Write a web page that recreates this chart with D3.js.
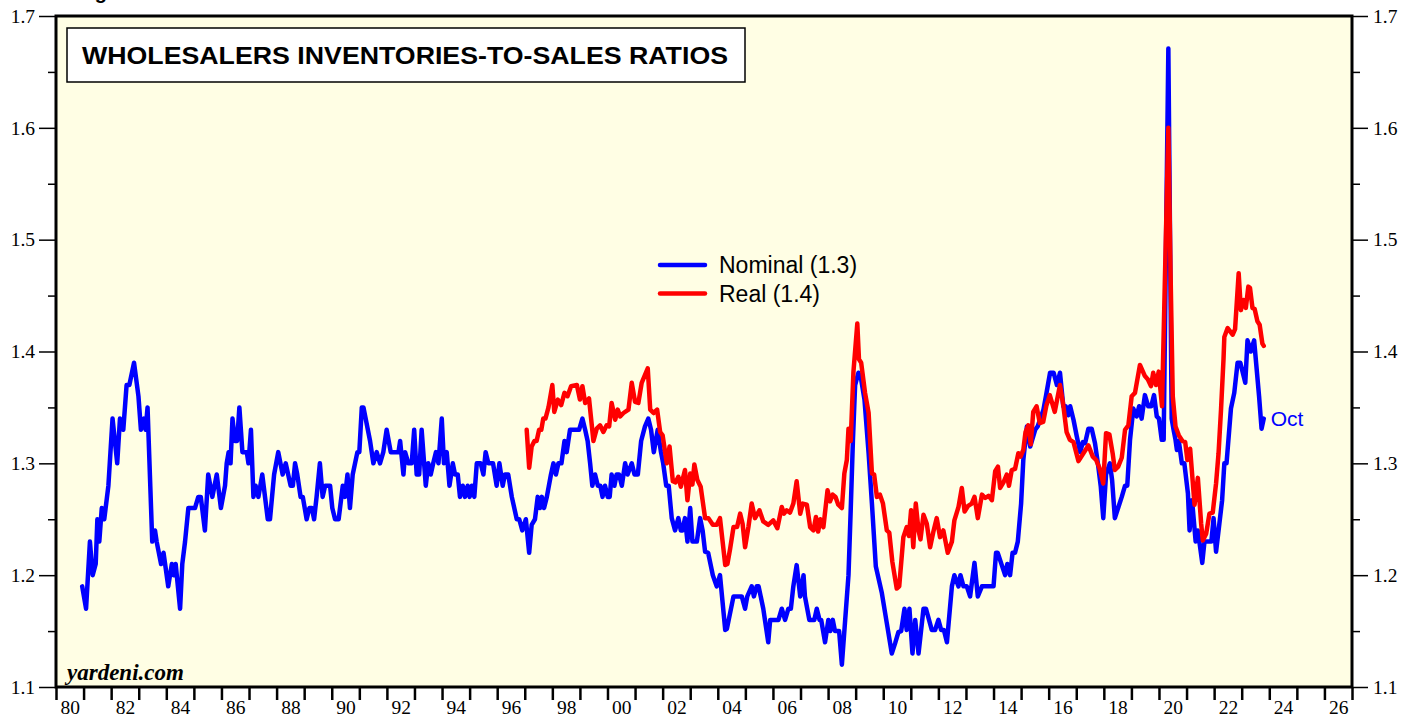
<!DOCTYPE html>
<html>
<head>
<meta charset="utf-8">
<script src="https://cdn.jsdelivr.net/npm/d3@7"></script>
<style>
  html, body { margin: 0; padding: 0; background: #fff; overflow: hidden; }
  svg { display: block; }
  .tick-label { font-family: "Liberation Serif", "Times New Roman", serif; font-size: 19.5px; fill: #000; }
  .axis path { display: none; }
  .axis line { stroke: #000; }
</style>
</head>
<body>
<div id="chart"></div>
<script>
// Wholesalers inventories-to-sales ratios
// points are [decimal year, ratio]
const nominal = [
  [1980.95,1.19],[1981.09,1.17],[1981.23,1.23],[1981.33,1.20],[1981.44,1.21],[1981.50,1.25],[1981.57,1.23],
  [1981.66,1.26],[1981.75,1.25],[1981.90,1.28],[1982.05,1.34],[1982.22,1.30],[1982.32,1.34],[1982.44,1.33],
  [1982.56,1.37],[1982.66,1.37],[1982.83,1.39],[1982.99,1.36],[1983.08,1.33],[1983.19,1.34],[1983.25,1.33],
  [1983.32,1.35],[1983.49,1.23],[1983.59,1.24],[1983.65,1.23],[1983.81,1.21],[1983.90,1.22],[1984.07,1.19],
  [1984.20,1.21],[1984.27,1.20],[1984.34,1.21],[1984.50,1.17],[1984.58,1.21],[1984.68,1.23],[1984.80,1.26],
  [1985.04,1.26],[1985.16,1.27],[1985.25,1.27],[1985.40,1.24],[1985.52,1.29],[1985.67,1.27],[1985.83,1.29],
  [1985.98,1.26],[1986.13,1.28],[1986.19,1.30],[1986.26,1.31],[1986.33,1.30],[1986.40,1.34],[1986.49,1.32],
  [1986.57,1.32],[1986.65,1.35],[1986.76,1.31],[1986.92,1.31],[1986.98,1.30],[1987.07,1.33],[1987.16,1.27],
  [1987.24,1.28],[1987.34,1.27],[1987.48,1.29],[1987.68,1.25],[1987.76,1.25],[1987.91,1.29],[1988.06,1.31],
  [1988.22,1.29],[1988.33,1.30],[1988.51,1.28],[1988.59,1.28],[1988.67,1.30],[1988.75,1.29],[1988.87,1.27],
  [1988.95,1.27],[1989.09,1.25],[1989.19,1.26],[1989.28,1.26],[1989.36,1.25],[1989.45,1.27],[1989.57,1.30],
  [1989.67,1.27],[1989.76,1.28],[1989.94,1.28],[1990.02,1.26],[1990.12,1.25],[1990.25,1.25],[1990.40,1.28],
  [1990.48,1.27],[1990.57,1.29],[1990.66,1.26],[1990.76,1.29],[1990.93,1.31],[1991.00,1.31],[1991.09,1.35],
  [1991.15,1.35],[1991.39,1.32],[1991.51,1.30],[1991.63,1.31],[1991.75,1.30],[1991.87,1.31],[1991.99,1.33],
  [1992.14,1.31],[1992.42,1.31],[1992.48,1.32],[1992.60,1.29],[1992.66,1.31],[1992.78,1.30],[1992.90,1.30],
  [1992.99,1.33],[1993.08,1.29],[1993.17,1.29],[1993.26,1.33],[1993.41,1.28],[1993.50,1.30],[1993.59,1.29],
  [1993.68,1.30],[1993.78,1.31],[1993.87,1.30],[1993.99,1.34],[1994.07,1.30],[1994.17,1.31],[1994.27,1.28],
  [1994.39,1.30],[1994.47,1.29],[1994.57,1.29],[1994.65,1.27],[1994.75,1.28],[1994.83,1.27],[1994.93,1.28],
  [1995.00,1.27],[1995.08,1.28],[1995.17,1.27],[1995.26,1.30],[1995.40,1.30],[1995.50,1.29],[1995.58,1.31],
  [1995.68,1.30],[1995.85,1.30],[1995.98,1.28],[1996.08,1.30],[1996.20,1.28],[1996.28,1.29],[1996.40,1.29],
  [1996.53,1.27],[1996.71,1.25],[1996.80,1.25],[1996.91,1.24],[1997.04,1.25],[1997.16,1.22],[1997.25,1.245],
  [1997.37,1.25],[1997.47,1.27],[1997.55,1.26],[1997.62,1.27],[1997.70,1.26],[1997.80,1.27],[1997.95,1.29],
  [1998.04,1.30],[1998.13,1.29],[1998.22,1.30],[1998.33,1.30],[1998.44,1.32],[1998.52,1.31],[1998.64,1.33],
  [1998.82,1.33],[1998.97,1.33],[1999.09,1.34],[1999.19,1.33],[1999.28,1.32],[1999.37,1.30],[1999.45,1.28],
  [1999.55,1.29],[1999.65,1.28],[1999.74,1.28],[1999.82,1.27],[1999.91,1.28],[2000.01,1.27],[2000.08,1.27],
  [2000.15,1.29],[2000.25,1.28],[2000.33,1.29],[2000.42,1.29],[2000.52,1.28],[2000.64,1.30],[2000.73,1.29],
  [2000.88,1.30],[2000.98,1.29],[2001.10,1.29],[2001.22,1.32],[2001.36,1.333],[2001.48,1.34],[2001.58,1.33],
  [2001.68,1.31],[2001.82,1.33],[2001.94,1.31],[2002.02,1.30],[2002.13,1.28],[2002.22,1.28],[2002.33,1.251],
  [2002.45,1.24],[2002.57,1.251],[2002.66,1.24],[2002.72,1.24],[2002.81,1.251],[2002.90,1.23],[2003.00,1.26],
  [2003.08,1.23],[2003.24,1.23],[2003.36,1.251],[2003.45,1.24],[2003.54,1.221],[2003.65,1.22],[2003.82,1.20],
  [2003.96,1.19],[2004.08,1.20],[2004.27,1.151],[2004.33,1.152],[2004.57,1.181],[2004.87,1.181],[2004.99,1.17],
  [2005.07,1.181],[2005.23,1.19],[2005.31,1.181],[2005.41,1.19],[2005.48,1.19],[2005.65,1.17],[2005.83,1.14],
  [2005.90,1.16],[2006.20,1.16],[2006.32,1.17],[2006.44,1.16],[2006.56,1.17],[2006.65,1.17],[2006.74,1.19],
  [2006.86,1.209],[2006.99,1.181],[2007.11,1.20],[2007.16,1.181],[2007.32,1.16],[2007.50,1.16],[2007.59,1.17],
  [2007.69,1.16],[2007.75,1.16],[2007.89,1.14],[2008.01,1.16],[2008.08,1.15],[2008.17,1.16],[2008.25,1.15],
  [2008.40,1.15],[2008.50,1.12],[2008.62,1.16],[2008.74,1.20],[2008.82,1.258],[2008.90,1.32],[2008.98,1.37],
  [2009.10,1.381],[2009.20,1.375],[2009.32,1.357],[2009.47,1.309],[2009.59,1.264],[2009.73,1.208],[2009.95,1.184],
  [2010.13,1.157],[2010.31,1.13],[2010.43,1.139],[2010.55,1.149],[2010.65,1.15],[2010.77,1.17],[2010.85,1.151],
  [2010.95,1.17],[2011.06,1.13],[2011.16,1.16],[2011.28,1.13],[2011.46,1.17],[2011.55,1.17],[2011.76,1.151],
  [2011.88,1.151],[2012.00,1.16],[2012.10,1.151],[2012.20,1.151],[2012.31,1.14],[2012.49,1.19],[2012.58,1.20],
  [2012.73,1.19],[2012.80,1.20],[2012.91,1.19],[2013.03,1.19],[2013.15,1.181],[2013.31,1.211],[2013.43,1.181],
  [2013.58,1.19],[2014.00,1.19],[2014.09,1.22],[2014.15,1.22],[2014.30,1.209],[2014.42,1.20],[2014.50,1.21],
  [2014.60,1.20],[2014.69,1.22],[2014.78,1.22],[2014.88,1.23],[2015.00,1.264],[2015.08,1.303],[2015.21,1.333],
  [2015.33,1.315],[2015.51,1.33],[2015.60,1.333],[2015.81,1.348],[2015.90,1.36],[2016.05,1.381],[2016.18,1.381],
  [2016.30,1.37],[2016.41,1.381],[2016.53,1.351],[2016.62,1.351],[2016.71,1.343],[2016.78,1.351],[2016.90,1.339],
  [2017.02,1.324],[2017.14,1.31],[2017.24,1.319],[2017.32,1.318],[2017.44,1.331],[2017.56,1.331],[2017.68,1.318],
  [2017.80,1.297],[2017.89,1.279],[2017.98,1.251],[2018.08,1.29],[2018.22,1.30],[2018.30,1.285],[2018.40,1.251],
  [2018.53,1.261],[2018.65,1.27],[2018.77,1.28],[2018.85,1.28],[2018.95,1.321],[2019.07,1.349],[2019.19,1.342],
  [2019.28,1.351],[2019.37,1.34],[2019.49,1.361],[2019.61,1.351],[2019.72,1.351],[2019.82,1.361],[2019.92,1.342],
  [2020.00,1.34],[2020.10,1.321],[2020.17,1.321],[2020.34,1.671],[2020.46,1.34],[2020.53,1.33],[2020.60,1.321],
  [2020.65,1.312],[2020.72,1.32],[2020.83,1.30],[2020.92,1.30],[2021.05,1.273],[2021.11,1.24],[2021.20,1.267],
  [2021.33,1.23],[2021.41,1.24],[2021.57,1.211],[2021.65,1.23],[2021.90,1.23],[2021.98,1.251],[2022.07,1.221],
  [2022.19,1.246],[2022.29,1.267],[2022.37,1.30],[2022.45,1.30],[2022.61,1.349],[2022.73,1.363],[2022.85,1.39],
  [2022.95,1.39],[2023.13,1.372],[2023.21,1.41],[2023.33,1.40],[2023.45,1.41],[2023.63,1.36],[2023.72,1.331],
  [2023.80,1.34]
];

const real = [
  [1997.07,1.33],[1997.16,1.296],[1997.25,1.315],[1997.35,1.32],[1997.43,1.32],[1997.52,1.33],[1997.60,1.33],
  [1997.67,1.34],[1997.75,1.34],[1997.86,1.35],[1998.00,1.37],[1998.07,1.346],[1998.20,1.357],[1998.32,1.352],
  [1998.44,1.363],[1998.55,1.36],[1998.68,1.369],[1998.89,1.37],[1999.00,1.357],[1999.09,1.369],[1999.19,1.354],
  [1999.33,1.358],[1999.49,1.32],[1999.61,1.331],[1999.73,1.334],[1999.85,1.328],[1999.97,1.334],[2000.06,1.333],
  [2000.15,1.354],[2000.28,1.339],[2000.37,1.348],[2000.46,1.342],[2000.58,1.345],[2000.76,1.348],[2000.88,1.372],
  [2001.00,1.355],[2001.12,1.354],[2001.24,1.372],[2001.46,1.385],[2001.55,1.348],[2001.67,1.345],[2001.80,1.348],
  [2001.91,1.328],[2002.00,1.325],[2002.15,1.30],[2002.25,1.315],[2002.37,1.284],[2002.47,1.283],[2002.57,1.288],
  [2002.66,1.279],[2002.81,1.294],[2002.90,1.267],[2003.00,1.291],[2003.08,1.281],[2003.15,1.299],[2003.26,1.285],
  [2003.38,1.279],[2003.54,1.251],[2003.66,1.251],[2003.82,1.245],[2003.96,1.245],[2004.08,1.251],[2004.27,1.209],
  [2004.35,1.21],[2004.45,1.224],[2004.57,1.243],[2004.70,1.243],[2004.81,1.255],[2004.90,1.246],[2004.99,1.225],
  [2005.11,1.243],[2005.23,1.264],[2005.35,1.251],[2005.51,1.258],[2005.65,1.248],[2005.83,1.245],[2006.01,1.249],
  [2006.16,1.242],[2006.32,1.261],[2006.40,1.255],[2006.50,1.258],[2006.62,1.256],[2006.74,1.264],[2006.86,1.284],
  [2006.99,1.255],[2007.08,1.264],[2007.23,1.263],[2007.35,1.243],[2007.47,1.24],[2007.56,1.252],[2007.64,1.239],
  [2007.72,1.25],[2007.83,1.243],[2007.98,1.276],[2008.07,1.266],[2008.17,1.272],[2008.27,1.27],[2008.37,1.263],
  [2008.50,1.26],[2008.59,1.291],[2008.68,1.303],[2008.74,1.331],[2008.82,1.32],[2008.92,1.382],[2009.06,1.425],
  [2009.12,1.393],[2009.20,1.39],[2009.34,1.363],[2009.47,1.345],[2009.59,1.291],[2009.67,1.29],[2009.77,1.27],
  [2009.88,1.272],[2009.99,1.264],[2010.13,1.24],[2010.22,1.238],[2010.33,1.212],[2010.49,1.188],[2010.58,1.19],
  [2010.73,1.234],[2010.85,1.243],[2010.93,1.235],[2011.01,1.258],[2011.09,1.225],[2011.18,1.264],[2011.28,1.24],
  [2011.35,1.232],[2011.46,1.254],[2011.58,1.246],[2011.70,1.225],[2011.82,1.239],[2011.94,1.251],[2012.06,1.234],
  [2012.18,1.24],[2012.34,1.22],[2012.49,1.23],[2012.58,1.249],[2012.73,1.261],[2012.85,1.278],[2012.95,1.257],
  [2013.08,1.262],[2013.21,1.264],[2013.31,1.27],[2013.43,1.251],[2013.58,1.272],[2013.70,1.269],[2013.82,1.271],
  [2013.94,1.267],[2014.06,1.293],[2014.16,1.297],[2014.24,1.278],[2014.36,1.283],[2014.48,1.29],[2014.56,1.28],
  [2014.66,1.294],[2014.78,1.295],[2014.90,1.309],[2014.98,1.306],[2015.08,1.312],[2015.16,1.328],[2015.26,1.334],
  [2015.35,1.317],[2015.44,1.346],[2015.56,1.351],[2015.68,1.336],[2015.80,1.337],[2015.92,1.352],[2016.04,1.361],
  [2016.22,1.346],[2016.41,1.37],[2016.53,1.352],[2016.65,1.328],[2016.77,1.321],[2016.90,1.319],[2017.08,1.302],
  [2017.26,1.309],[2017.44,1.316],[2017.60,1.306],[2017.72,1.303],[2017.84,1.296],[2017.98,1.282],[2018.08,1.327],
  [2018.20,1.326],[2018.32,1.309],[2018.40,1.294],[2018.52,1.297],[2018.65,1.305],[2018.77,1.33],[2018.89,1.334],
  [2019.01,1.36],[2019.13,1.363],[2019.31,1.388],[2019.49,1.378],[2019.60,1.375],[2019.71,1.369],[2019.79,1.381],
  [2019.89,1.37],[2019.99,1.382],[2020.11,1.351],[2020.34,1.60],[2020.42,1.47],[2020.50,1.36],[2020.60,1.333],
  [2020.72,1.325],[2020.85,1.32],[2020.95,1.319],[2021.03,1.303],[2021.13,1.313],[2021.20,1.291],[2021.29,1.263],
  [2021.41,1.287],[2021.53,1.246],[2021.59,1.231],[2021.71,1.237],[2021.83,1.255],[2021.95,1.256],[2022.07,1.282],
  [2022.16,1.309],[2022.25,1.348],[2022.34,1.393],[2022.37,1.413],[2022.49,1.421],[2022.58,1.418],[2022.67,1.415],
  [2022.76,1.42],[2022.89,1.47],[2022.97,1.437],[2023.06,1.446],[2023.15,1.439],[2023.24,1.458],[2023.30,1.457],
  [2023.39,1.439],[2023.47,1.438],[2023.57,1.427],[2023.65,1.424],[2023.75,1.407],[2023.80,1.405]
];

const yMajorTicks = [1.1, 1.2, 1.3, 1.4, 1.5, 1.6, 1.7];
const yMinorTicks = [1.15, 1.25, 1.35, 1.45, 1.55, 1.65];
const yearTicks = d3.range(1980, 2028);
const yearLabels = d3.range(1980, 2027, 2);
const seriesNames = ["Nominal (1.3)", "Real (1.4)"];
const seriesColors = ["#0000ff", "#ff0000"];

const width = 1417, height = 721;
const frame = { left: 56, right: 1352, top: 16, bottom: 687 };

const svg = d3.select("#chart").append("svg")
  .attr("width", width)
  .attr("height", height);

const x = d3.scaleLinear().domain([1980, 2027]).range([frame.left, frame.right]);
const y = d3.scaleLinear().domain([1.1, 1.7]).range([frame.bottom, frame.top]);

// heading sits above the top edge, only the descender shows (as in the source)
svg.append("text")
  .attr("x", 77).attr("y", -1)
  .attr("font-family", "Liberation Sans, Arial, sans-serif")
  .attr("font-weight", "bold").attr("font-size", 20)
  .text("Figure 1.");

// plot background
svg.append("rect")
  .attr("x", frame.left).attr("y", frame.top)
  .attr("width", frame.right - frame.left).attr("height", frame.bottom - frame.top)
  .attr("fill", "#fffee4");

// left axis (ticks outside)
const leftMajor = svg.append("g").attr("class", "axis")
  .attr("transform", `translate(${frame.left},0)`)
  .call(d3.axisLeft(y).tickValues(yMajorTicks).tickSize(17).tickPadding(4).tickFormat(d3.format(".1f")));
leftMajor.selectAll("text").attr("class", "tick-label").attr("font-family", null).attr("font-size", null);
leftMajor.selectAll("line").attr("stroke-width", 1.5);

svg.append("g").attr("class", "axis")
  .attr("transform", `translate(${frame.left},0)`)
  .call(d3.axisLeft(y).tickValues(yMinorTicks).tickSize(8).tickFormat(""))
  .selectAll("line").attr("stroke-width", 1.5);

// right axis
const rightMajor = svg.append("g").attr("class", "axis")
  .attr("transform", `translate(${frame.right},0)`)
  .call(d3.axisRight(y).tickValues(yMajorTicks).tickSize(16).tickPadding(5).tickFormat(d3.format(".1f")));
rightMajor.selectAll("text").attr("class", "tick-label").attr("font-family", null).attr("font-size", null);
rightMajor.selectAll("line").attr("stroke-width", 1.5);

svg.append("g").attr("class", "axis")
  .attr("transform", `translate(${frame.right},0)`)
  .call(d3.axisRight(y).tickValues(yMinorTicks).tickSize(8).tickFormat(""))
  .selectAll("line").attr("stroke-width", 1.5);

// bottom axis: a tick at every year, labels centred in even years
svg.append("g").attr("class", "axis")
  .attr("transform", `translate(0,${frame.bottom})`)
  .call(d3.axisBottom(x).tickValues(yearTicks).tickSize(13).tickFormat(""))
  .selectAll("line").attr("stroke-width", 2.5);

const bottomLabels = svg.append("g").attr("class", "axis")
  .attr("transform", `translate(0,${frame.bottom})`)
  .call(d3.axisBottom(x).tickValues(yearLabels.map((d) => d + 0.5)).tickSize(0).tickPadding(13)
    .tickFormat((d) => String(Math.floor(d) % 100).padStart(2, "0")));
bottomLabels.selectAll("line").remove();
bottomLabels.selectAll("text").attr("class", "tick-label").attr("font-family", null).attr("font-size", null);

// series, real drawn over nominal
const line = d3.line().x((d) => x(d[0])).y((d) => y(d[1]));
const plot = svg.append("g");
[nominal, real].forEach((data, i) => {
  plot.append("path")
    .datum(data)
    .attr("d", line)
    .attr("fill", "none")
    .attr("stroke", seriesColors[i])
    .attr("stroke-width", 4.5)
    .attr("stroke-linejoin", "round")
    .attr("stroke-linecap", "round");
});

// last-point label
const lastNominal = nominal[nominal.length - 1];
svg.append("text")
  .attr("x", x(lastNominal[0]) + 7)
  .attr("y", y(lastNominal[1]) + 7)
  .attr("font-family", "Liberation Sans, Arial, sans-serif")
  .attr("font-size", 21)
  .attr("fill", seriesColors[0])
  .text("Oct");

// frame on top
svg.append("rect")
  .attr("x", frame.left).attr("y", frame.top)
  .attr("width", frame.right - frame.left).attr("height", frame.bottom - frame.top)
  .attr("fill", "none").attr("stroke", "#000").attr("stroke-width", 3);

// title box
const titleG = svg.append("g");
titleG.append("rect")
  .attr("x", 67).attr("y", 28).attr("width", 678).attr("height", 54)
  .attr("fill", "#fff").attr("stroke", "#000").attr("stroke-width", 1.5);
titleG.append("text")
  .attr("x", 82).attr("y", 64)
  .attr("font-family", "Liberation Sans, Arial, sans-serif")
  .attr("font-weight", "bold").attr("font-size", 24)
  .attr("textLength", 646).attr("lengthAdjust", "spacingAndGlyphs")
  .text("WHOLESALERS INVENTORIES-TO-SALES RATIOS");

// legend
const legend = svg.append("g").attr("transform", "translate(660,265)");
seriesNames.forEach((name, i) => {
  const row = legend.append("g").attr("transform", `translate(0,${i * 28.5})`);
  row.append("line")
    .attr("x1", 0).attr("x2", 45).attr("y1", 0).attr("y2", 0)
    .attr("stroke", seriesColors[i]).attr("stroke-width", 4.5).attr("stroke-linecap", "round");
  row.append("text")
    .attr("x", 59).attr("y", 8)
    .attr("font-family", "Liberation Sans, Arial, sans-serif")
    .attr("font-size", 23)
    .text(name);
});

// watermark
svg.append("text")
  .attr("x", 67).attr("y", 680)
  .attr("font-family", "Liberation Serif, Times New Roman, serif")
  .attr("font-weight", "bold").attr("font-style", "italic").attr("font-size", 23)
  .text("yardeni.com");
</script>
</body>
</html>
